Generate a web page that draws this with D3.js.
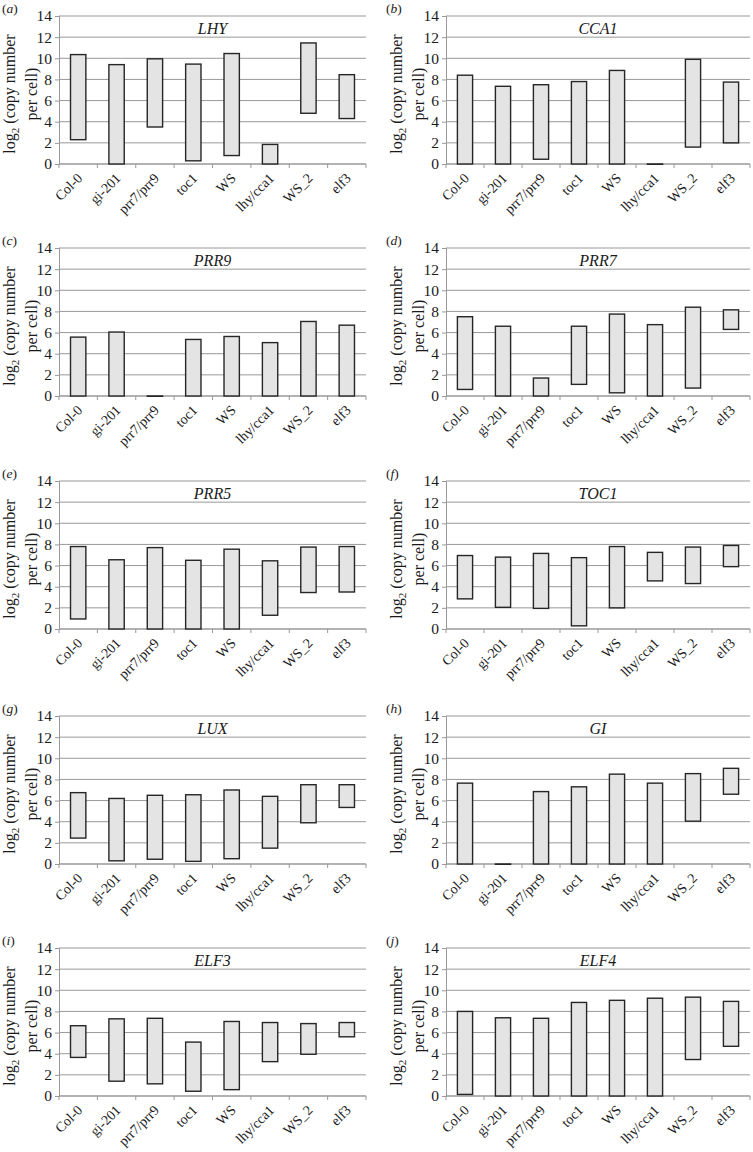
<!DOCTYPE html>
<html>
<head>
<meta charset="utf-8">
<script src="https://cdn.jsdelivr.net/npm/d3@7"></script>
<style>
  html, body { margin: 0; padding: 0; background: #fff; }
  svg { display: block; }
  text { font-family: "Liberation Serif", "Times New Roman", serif; fill: #1a1a1a; }
</style>
</head>
<body>
<script>
// ---------- DATA ----------
const categories = ["Col-0", "gi-201", "prr7/prr9", "toc1", "WS", "lhy/cca1", "WS_2", "elf3"];
const genes = ["LHY", "CCA1", "PRR9", "PRR7", "PRR5", "TOC1", "LUX", "GI", "ELF3", "ELF4"];
const panelLetters = ["a", "b", "c", "d", "e", "f", "g", "h", "i", "j"];
const yTicks = [0, 2, 4, 6, 8, 10, 12, 14];

// [min, max] of log2 copy number per cell, one pair per category
const LHY  = [[2.3, 10.35], [0, 9.4], [3.5, 9.95], [0.3, 9.45], [0.8, 10.45], [0, 1.85], [4.8, 11.45], [4.3, 8.45]];
const CCA1 = [[0, 8.4], [0, 7.35], [0.45, 7.5], [0, 7.8], [0, 8.85], [0, 0], [1.6, 9.9], [2.0, 7.75]];
const PRR9 = [[0, 5.57], [0, 6.05], [0, 0], [0, 5.35], [0, 5.63], [0, 5.05], [0, 7.05], [0, 6.7]];
const PRR7 = [[0.62, 7.5], [0, 6.6], [0, 1.7], [1.1, 6.6], [0.3, 7.75], [0, 6.75], [0.75, 8.4], [6.3, 8.15]];
const PRR5 = [[0.95, 7.8], [0, 6.55], [0, 7.7], [0, 6.5], [0, 7.55], [1.3, 6.45], [3.45, 7.75], [3.5, 7.8]];
const TOC1 = [[2.85, 6.95], [2.05, 6.8], [1.95, 7.15], [0.3, 6.75], [2.0, 7.8], [4.55, 7.25], [4.3, 7.75], [5.9, 7.9]];
const LUX  = [[2.45, 6.75], [0.3, 6.2], [0.45, 6.5], [0.25, 6.55], [0.5, 7.0], [1.5, 6.4], [3.9, 7.5], [5.35, 7.5]];
const GI   = [[0, 7.65], [0, 0], [0, 6.85], [0, 7.3], [0, 8.5], [0, 7.65], [4.05, 8.55], [6.6, 9.05]];
const ELF3 = [[3.65, 6.65], [1.4, 7.3], [1.15, 7.35], [0.45, 5.1], [0.6, 7.05], [3.25, 6.95], [3.95, 6.85], [5.6, 6.95]];
const ELF4 = [[0.15, 8.0], [0, 7.4], [0, 7.35], [0, 8.85], [0, 9.05], [0, 9.25], [3.45, 9.35], [4.7, 8.95]];
const seriesByGene = [LHY, CCA1, PRR9, PRR7, PRR5, TOC1, LUX, GI, ELF3, ELF4];

// ---------- LAYOUT ----------
const W = 753, H = 1152;
const colX = [[59, 366], [446, 750]];
const rowTop = [16, 248, 481, 716, 948];
const plotH = 148;

const svg = d3.select("body").append("svg").attr("width", W).attr("height", H);

genes.forEach((gene, i) => {
  const col = i % 2, row = Math.floor(i / 2);
  const [x0, x1] = colX[col];
  const yTop = rowTop[row], yBot = yTop + plotH;
  const data = seriesByGene[i];

  const x = d3.scaleBand().domain(categories).range([x0, x1]).paddingInner(0).paddingOuter(0);
  const xb = d3.scaleBand().domain(categories).range([x0, x1]).paddingInner(0.6).paddingOuter(0.3);
  const y = d3.scaleLinear().domain([0, 14]).range([yBot, yTop]);

  const g = svg.append("g");

  // gridlines
  g.append("g").selectAll("line").data(yTicks).join("line")
    .attr("x1", x0).attr("x2", x1)
    .attr("y1", d => y(d)).attr("y2", d => y(d))
    .attr("stroke", "#999").attr("stroke-width", 1);

  // left axis
  const yAxis = d3.axisLeft(y).tickValues(yTicks).tickSize(4).tickPadding(3);
  const ya = g.append("g").attr("transform", `translate(${x0},0)`).call(yAxis);
  ya.attr("font-family", null).attr("font-size", null);
  ya.select(".domain").attr("stroke", "#999");
  ya.selectAll(".tick line").attr("stroke", "#999");
  ya.selectAll(".tick text").style("font-size", "15.5px").attr("fill", "#1a1a1a");

  // bottom axis: ticks at band boundaries
  const bounds = categories.map(c => x(c)).concat([x1]);
  g.append("line").attr("x1", x0).attr("x2", x1).attr("y1", yBot).attr("y2", yBot).attr("stroke", "#999");
  g.append("g").selectAll("line").data(bounds).join("line")
    .attr("x1", d => d).attr("x2", d => d).attr("y1", yBot).attr("y2", yBot + 4)
    .attr("stroke", "#999");

  // category labels
  g.append("g").selectAll("text").data(categories).join("text")
    .attr("transform", c => `translate(${x(c) + x.bandwidth() / 2 + 5},${yBot + 15}) rotate(-45)`)
    .attr("text-anchor", "end")
    .style("font-size", "14px")
    .text(c => c);

  // floating bars
  g.append("g").selectAll("rect").data(data.map((d, k) => ({ c: categories[k], lo: d[0], hi: d[1] }))).join("rect")
    .attr("x", d => xb(d.c))
    .attr("width", xb.bandwidth())
    .attr("y", d => y(d.hi))
    .attr("height", d => Math.max(y(d.lo) - y(d.hi), 0.3))
    .attr("fill", "#e4e4e4")
    .attr("stroke", "#262626")
    .attr("stroke-width", 1.4);

  // gene title
  g.append("text")
    .attr("x", (x0 + x1) / 2).attr("y", yTop + 18)
    .attr("text-anchor", "middle")
    .attr("font-style", "italic")
    .style("font-size", "16px")
    .text(gene);

  // panel letter
  const lt = g.append("text")
    .attr("x", col === 0 ? 2 : 386).attr("y", yTop - 3)
    .style("font-size", "13.5px");
  lt.append("tspan").text("(");
  lt.append("tspan").attr("font-style", "italic").text(panelLetters[i]);
  lt.append("tspan").text(")");

  // y-axis label
  const cy = (yTop + yBot) / 2 + 4;
  const l1 = g.append("text")
    .attr("transform", `translate(${x0 - 44},${cy}) rotate(-90)`)
    .attr("text-anchor", "middle")
    .style("font-size", "16px");
  l1.append("tspan").text("log");
  l1.append("tspan").style("font-size", "11px").attr("dy", 4).text("2");
  l1.append("tspan").attr("dy", -4).text(" (copy number");
  g.append("text")
    .attr("transform", `translate(${x0 - 22},${cy}) rotate(-90)`)
    .attr("text-anchor", "middle")
    .style("font-size", "16px")
    .text("per cell)");
});
</script>
</body>
</html>
